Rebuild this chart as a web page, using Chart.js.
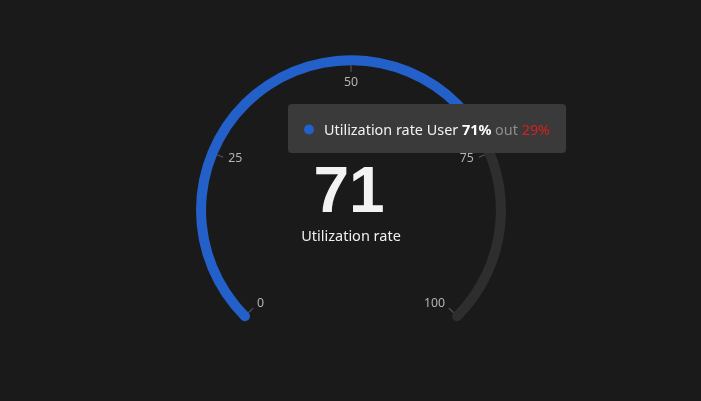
<!DOCTYPE html>
<html><head><meta charset="utf-8">
<script src="https://cdn.jsdelivr.net/npm/chart.js@4"></script>
<style>html,body{margin:0;padding:0;background:#1a1a1a;overflow:hidden}#wrap{width:701px;height:401px;position:relative}canvas{display:block}</style>
</head><body><div id="wrap"><canvas id="c" width="701" height="401"></canvas></div>
<script>
const seriesName = 'Utilization rate';
const categories = ['User', 'out'];
const values = [71, 29];
const gaugeMax = 100;
const tickValues = [0, 25, 50, 75, 100];
const tickLabels = ['0', '25', '50', '75', '100'];

const BLUE = '#2360c9';
const TRACK = '#2e2e2e';
const FONT = '"Noto Sans", "Open Sans", sans-serif';

const decor = {
  id: 'decor',
  afterDatasetsDraw(chart) {
    const ctx = chart.ctx;
    const meta = chart.getDatasetMeta(0);
    const arc = meta.data[0];
    const last = meta.data[meta.data.length - 1];
    const colors = chart.data.datasets[0].backgroundColor;
    const cx = arc.x, cy = arc.y, inner = arc.innerRadius, outer = arc.outerRadius;
    const start = arc.startAngle;
    const total = Math.PI * 2 * 270 / 360;
    ctx.save();
    // round caps at both ends of the gauge ring
    const mid = (inner + outer) / 2, capR = (outer - inner) / 2;
    [[arc.startAngle, colors[0]], [last.endAngle, colors[colors.length - 1]]].forEach(([a, col]) => {
      ctx.fillStyle = col;
      ctx.beginPath();
      ctx.arc(cx + Math.cos(a) * mid, cy + Math.sin(a) * mid, capR, 0, Math.PI * 2);
      ctx.fill();
    });
    // ticks and labels
    tickValues.forEach((v, i) => {
      const a = start + v / gaugeMax * total;
      const c = Math.cos(a), s = Math.sin(a);
      ctx.strokeStyle = '#555555';
      ctx.lineWidth = 1.2;
      ctx.beginPath();
      ctx.moveTo(cx + c * (inner - 6.5), cy + s * (inner - 6.5));
      ctx.lineTo(cx + c * (inner), cy + s * (inner));
      ctx.stroke();
      const r = inner - 12;
      ctx.fillStyle = '#b4b4b4';
      ctx.font = '12.3px ' + FONT;
      ctx.textAlign = c < -0.4 ? 'left' : (c > 0.4 ? 'right' : 'center');
      ctx.textBaseline = 'middle';
      let lx = cx + c * r, ly = cy + s * r;
      if (s < -0.8) ly += 6;
      else if (s > 0.8) ly -= 6;
      ctx.fillText(tickLabels[i], lx, ly - 1);
    });
    // center value
    ctx.fillStyle = '#f3f3f3';
    ctx.font = 'bold 64px "Liberation Sans", Arial, sans-serif';
    ctx.textAlign = 'center';
    ctx.textBaseline = 'alphabetic';
    ctx.fillText(String(values[0]), cx - 2, cy + 2);
    ctx.font = '14.5px ' + FONT;
    ctx.fillStyle = '#f0f0f0';
    ctx.fillText(seriesName, cx, cy + 31);

    // tooltip
    const pctA = Math.round(values[0] / gaugeMax * 100) + '%';
    const pctB = Math.round(values[1] / gaugeMax * 100) + '%';
    const fs = '14.4px ';
    const segs = [
      {t: seriesName + ' ' + categories[0] + ' ', f: fs + FONT, c: '#f2f2f2'},
      {t: pctA, f: 'bold ' + fs + FONT, c: '#ffffff'},
      {t: ' ' + categories[1] + ' ', f: fs + FONT, c: '#8e8e8e'},
      {t: pctB, f: fs + FONT, c: '#d91f1f'}
    ];
    let tw = 0;
    segs.forEach(sg => { ctx.font = sg.f; sg.w = ctx.measureText(sg.t).width; tw += sg.w; });
    const bx = 288, by = 104, bh = 49;
    const bw = 16 + 10 + 10 + tw + 16;
    ctx.fillStyle = '#3a3a3a';
    ctx.beginPath();
    ctx.roundRect(bx, by, bw, bh, 4);
    ctx.fill();
    ctx.fillStyle = colors[0];
    ctx.beginPath();
    ctx.arc(bx + 21, by + bh / 2 + 1, 5, 0, Math.PI * 2);
    ctx.fill();
    let x = bx + 36;
    ctx.textAlign = 'left';
    ctx.textBaseline = 'alphabetic';
    segs.forEach(sg => { ctx.font = sg.f; ctx.fillStyle = sg.c; ctx.fillText(sg.t, x, by + 30.5); x += sg.w; });
    ctx.restore();
  }
};

new Chart(document.getElementById('c'), {
  type: 'doughnut',
  data: {
    labels: categories,
    datasets: [{
      label: seriesName,
      data: values,
      backgroundColor: [BLUE, TRACK],
      hoverBackgroundColor: [BLUE, TRACK],
      borderWidth: 0,
      borderRadius: 0
    }]
  },
  options: {
    responsive: false,
    animation: false,
    events: [],
    rotation: -135,
    circumference: 270,
    radius: 155,
    cutout: '93.5%',
    layout: {padding: {left: 1, right: 0, top: 0, bottom: 26}},
    plugins: {legend: {display: false}, tooltip: {enabled: false}}
  },
  plugins: [decor]
});
</script></body></html>
